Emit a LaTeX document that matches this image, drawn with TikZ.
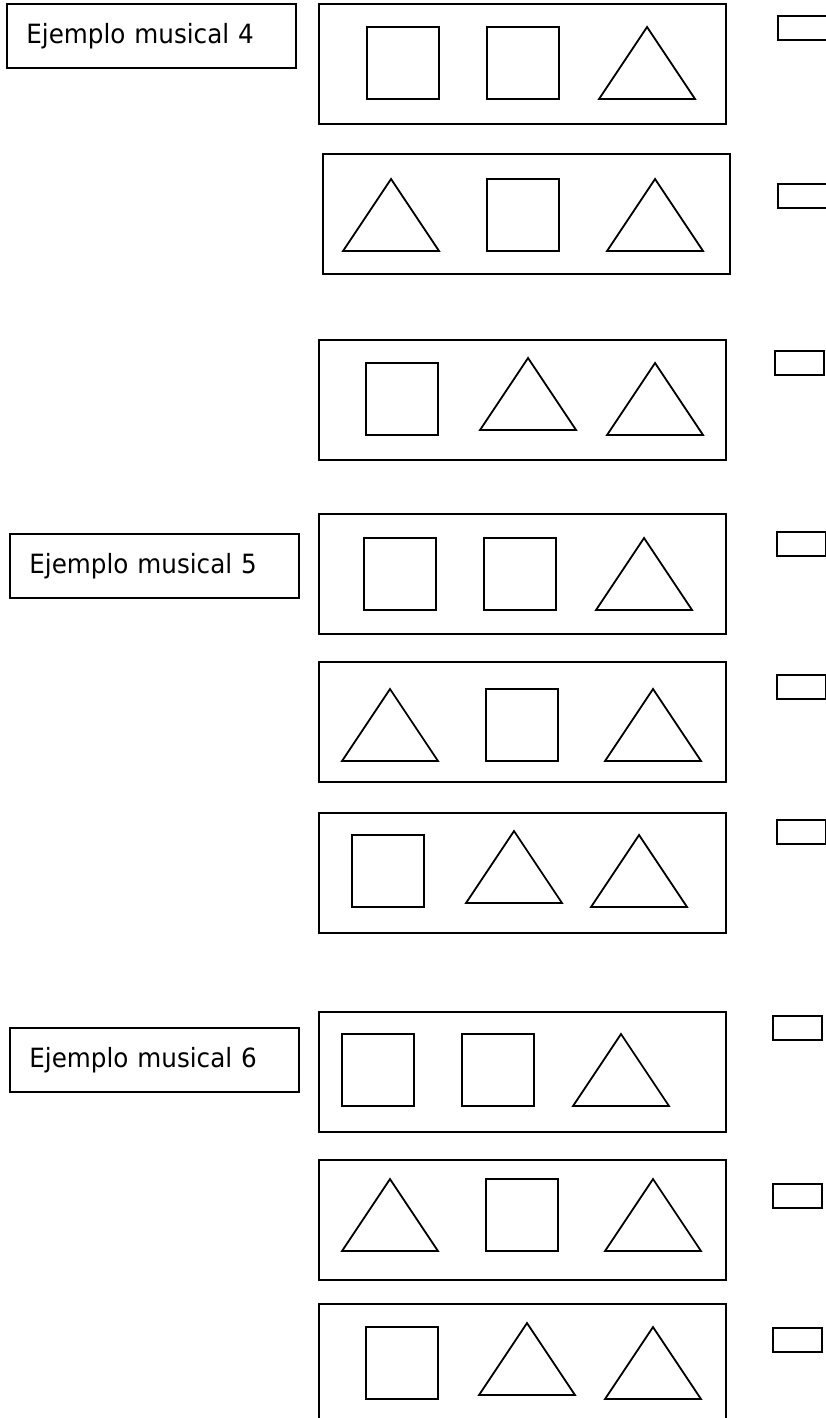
\documentclass[tikz,border=0pt]{standalone}
\usepackage{fontspec}
\setmainfont{DejaVu Sans}[FakeStretch=0.93]
\begin{document}
\begin{tikzpicture}[x=1pt, y=-1pt,
    line/.style={draw=black, line width=1.8pt},
    panel/.style={rectangle, draw=black, line width=2pt, minimum width=407pt, minimum height=120pt, inner sep=0pt, anchor=north west},
    tag/.style={rectangle, draw=black, line width=1.8pt, minimum width=289pt, minimum height=64pt, text width=250pt, inner xsep=19.5pt, inner ysep=0pt, align=left, anchor=north west, font=\fontsize{26.5}{31}\selectfont},
    slot/.style={rectangle, draw=black, line width=2pt, minimum width=49pt, minimum height=24pt, inner sep=0pt, anchor=north west},
  ]
  \useasboundingbox (0,0) rectangle (825,1418);

  % square, #1 left, #2 top
  \newcommand{\sqbox}[2]{\draw[line] (#1,#2) rectangle ++(72,72);}
  % triangle, #1 left, #2 apex height
  \newcommand{\trig}[2]{\draw[line] (#1,{#2+72}) -- ++(96,0) -- ({#1+48},#2) -- cycle;}

  % labels
  \node[tag] (ej4) at (6,3)    {Ejemplo musical 4};
  \node[tag] (ej5) at (9,533)  {Ejemplo musical 5};
  \node[tag] (ej6) at (9,1027) {Ejemplo musical 6};

  % answer panels and the slots beside them
  \foreach \n/\x/\y in {1/318/3, 2/322/153, 3/318/339, 4/318/513, 5/318/661,
                        6/318/812, 7/318/1011, 8/318/1159, 9/318/1303}
    \node[panel] (r\n) at (\x,\y) {};
  \foreach \n/\x/\y in {1/777/15, 2/777/183, 3/774/350, 4/776/531, 5/776/674,
                        6/776/819, 7/772/1015, 8/772/1183, 9/772/1327}
    \node[slot] (s\n) at (\x,\y) {};

  % ejemplo 4
  \sqbox{367}{27} \sqbox{487}{27} \trig{599}{27}
  \trig{343}{179} \sqbox{487}{179} \trig{607}{179}
  \sqbox{366}{363} \trig{480}{358} \trig{607}{363}

  % ejemplo 5
  \sqbox{364}{538} \sqbox{484}{538} \trig{596}{538}
  \trig{342}{689} \sqbox{486}{689} \trig{605}{689}
  \sqbox{352}{835} \trig{466}{831} \trig{591}{835}

  % ejemplo 6
  \sqbox{342}{1034} \sqbox{462}{1034} \trig{573}{1034}
  \trig{342}{1179} \sqbox{486}{1179} \trig{605}{1179}
  \sqbox{366}{1327} \trig{479}{1323} \trig{605}{1327}

\end{tikzpicture}
\end{document}
